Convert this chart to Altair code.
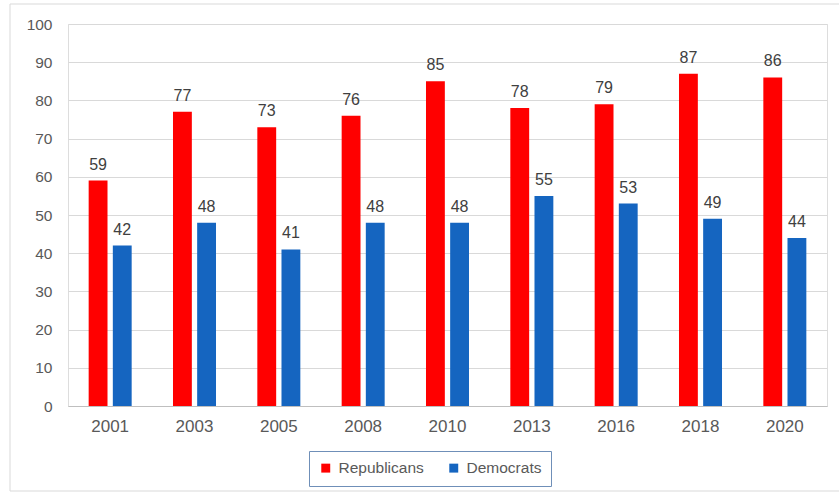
import altair as alt
import pandas as pd

years = ["2001", "2003", "2005", "2008", "2010", "2013", "2016", "2018", "2020"]
republicans = [59, 77, 73, 76, 85, 78, 79, 87, 86]
democrats = [42, 48, 41, 48, 48, 55, 53, 49, 44]
parties = ["Republicans", "Democrats"]
colors = ["#FF0000", "#1565C0"]

rows = []
for y, r, d in zip(years, republicans, democrats):
    rows.append({"year": y, "party": "Republicans", "value": r})
    rows.append({"year": y, "party": "Democrats", "value": d})
df = pd.DataFrame(rows)

FONT = "Liberation Sans"
W, H = 759, 382

frame = alt.Chart(pd.DataFrame({"a": [0]})).mark_rect(
    fill=None, stroke="#d9d9d9", strokeWidth=1
).encode(
    x=alt.value(-58), x2=alt.value(W + 80), y=alt.value(-20), y2=alt.value(H + 85)
)

base = alt.Chart(df).encode(
    x=alt.X("year:N", sort=years, title=None,
            scale=alt.Scale(paddingInner=0.49, paddingOuter=0.245),
            axis=alt.Axis(labelAngle=0, labelFontSize=17, labelColor="#595959",
                          labelFont=FONT, ticks=False, domainColor="#bfbfbf",
                          labelPadding=12, grid=False)),
    xOffset=alt.XOffset("party:N", sort=parties, scale=alt.Scale(paddingInner=0.22)),
    y=alt.Y("value:Q", title=None,
            scale=alt.Scale(domain=[0, 100], nice=False),
            axis=alt.Axis(values=list(range(0, 101, 10)), labelFontSize=15.5,
                          labelColor="#595959", labelFont=FONT, ticks=False,
                          domain=False, gridColor="#d9d9d9", labelPadding=16)),
)

bars = base.mark_bar().encode(
    color=alt.Color("party:N", sort=parties,
                    scale=alt.Scale(domain=parties, range=colors),
                    legend=alt.Legend(title=None, orient="none", direction="horizontal",
                                      legendX=241, legendY=427,
                                      labelFontSize=15.5, labelColor="#595959",
                                      labelFont=FONT, symbolType="square",
                                      symbolSize=80, symbolStrokeWidth=0,
                                      strokeColor="#6f8fb8", padding=9,
                                      columnPadding=22, labelOffset=5))
)

labels = base.mark_text(baseline="bottom", dy=-8, fontSize=16, color="#404040",
                        font=FONT).encode(text="value:Q")

chart = alt.layer(frame, bars, labels).properties(
    width=W, height=H,
    autosize=alt.AutoSizeParams(type="none"),
    padding={"left": 68, "top": 24, "right": 12, "bottom": 87},
).configure_view(stroke=None).configure(background="white")

chart.save("out.html", embed_options={"renderer": "svg", "actions": False})
